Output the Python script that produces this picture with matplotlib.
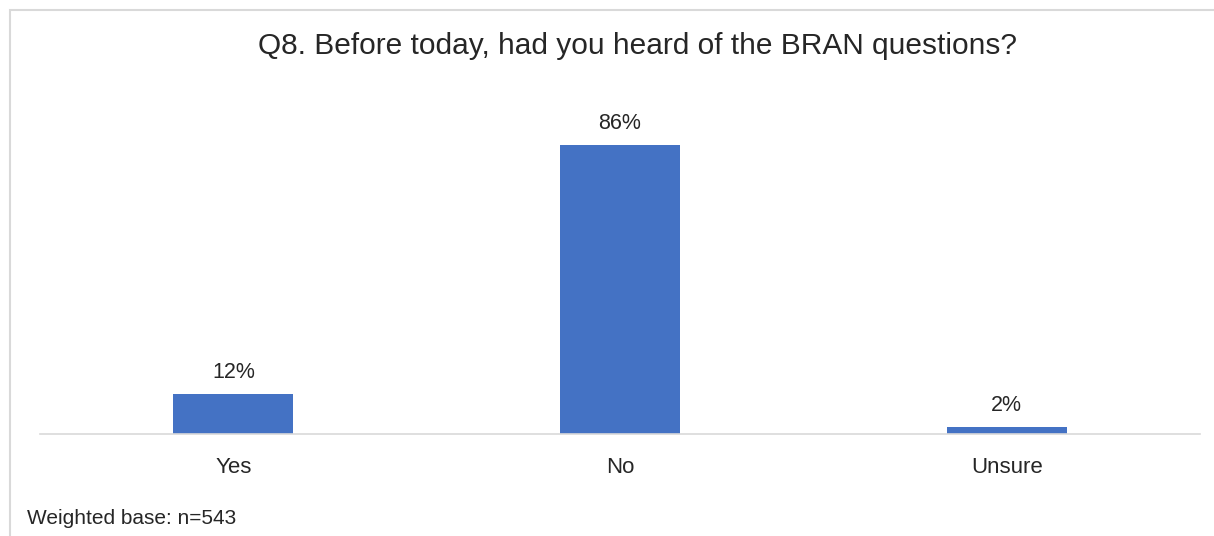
import matplotlib
matplotlib.use("Agg")
import matplotlib.pyplot as plt
from matplotlib.patches import Rectangle

# Q8 answers
categories = ["Yes", "No", "Unsure"]
shares = [12, 86, 2]
title = "Q8. Before today, had you heard of the BRAN questions?"
footnote = "Weighted base: n=543"

plt.rcParams['font.family'] = ['Liberation Sans', 'DejaVu Sans']

W, H = 1214, 536
fig = plt.figure(figsize=(W / 100, H / 100), dpi=100)

# chart frame (only top and left edges show in the crop)
fig.patches.append(Rectangle((10 / W, -0.1), 1.2, (H - 9.5) / H + 0.1,
                             transform=fig.transFigure, fill=False,
                             edgecolor="#d9d9d9", linewidth=1.5))

# axes: baseline at y=434, x from 40 to 1200
ax = fig.add_axes([40 / W, (H - 434) / H, 1160 / W, 354 / H])
ax.bar(range(len(categories)), shares, width=0.31, color="#4472C4")
ax.set_xlim(-0.5, len(categories) - 0.5)
ax.set_ylim(0, 354 / 336 * 100)

for i, v in enumerate(shares):
    ax.annotate(f"{v}%", (i, v), xytext=(0, 8), textcoords="offset points",
                ha="center", va="bottom", fontsize=15.5, color="#262626")

ax.set_xticks(range(len(categories)))
ax.set_xticklabels(categories, fontsize=16, color="#262626")
ax.tick_params(axis="x", length=0, pad=16.5)
ax.set_yticks([])
for s in ["top", "right", "left"]:
    ax.spines[s].set_visible(False)
ax.spines["bottom"].set_color("#d9d9d9")
ax.spines["bottom"].set_linewidth(1.2)

fig.text(637 / W, 1 - 46 / H, title, ha="center", va="center",
         fontsize=21.5, color="#262626")
fig.text(27 / W, 1 - 518 / H, footnote, ha="left", va="center",
         fontsize=15, color="#262626")

fig.savefig("out.png", dpi=100)
